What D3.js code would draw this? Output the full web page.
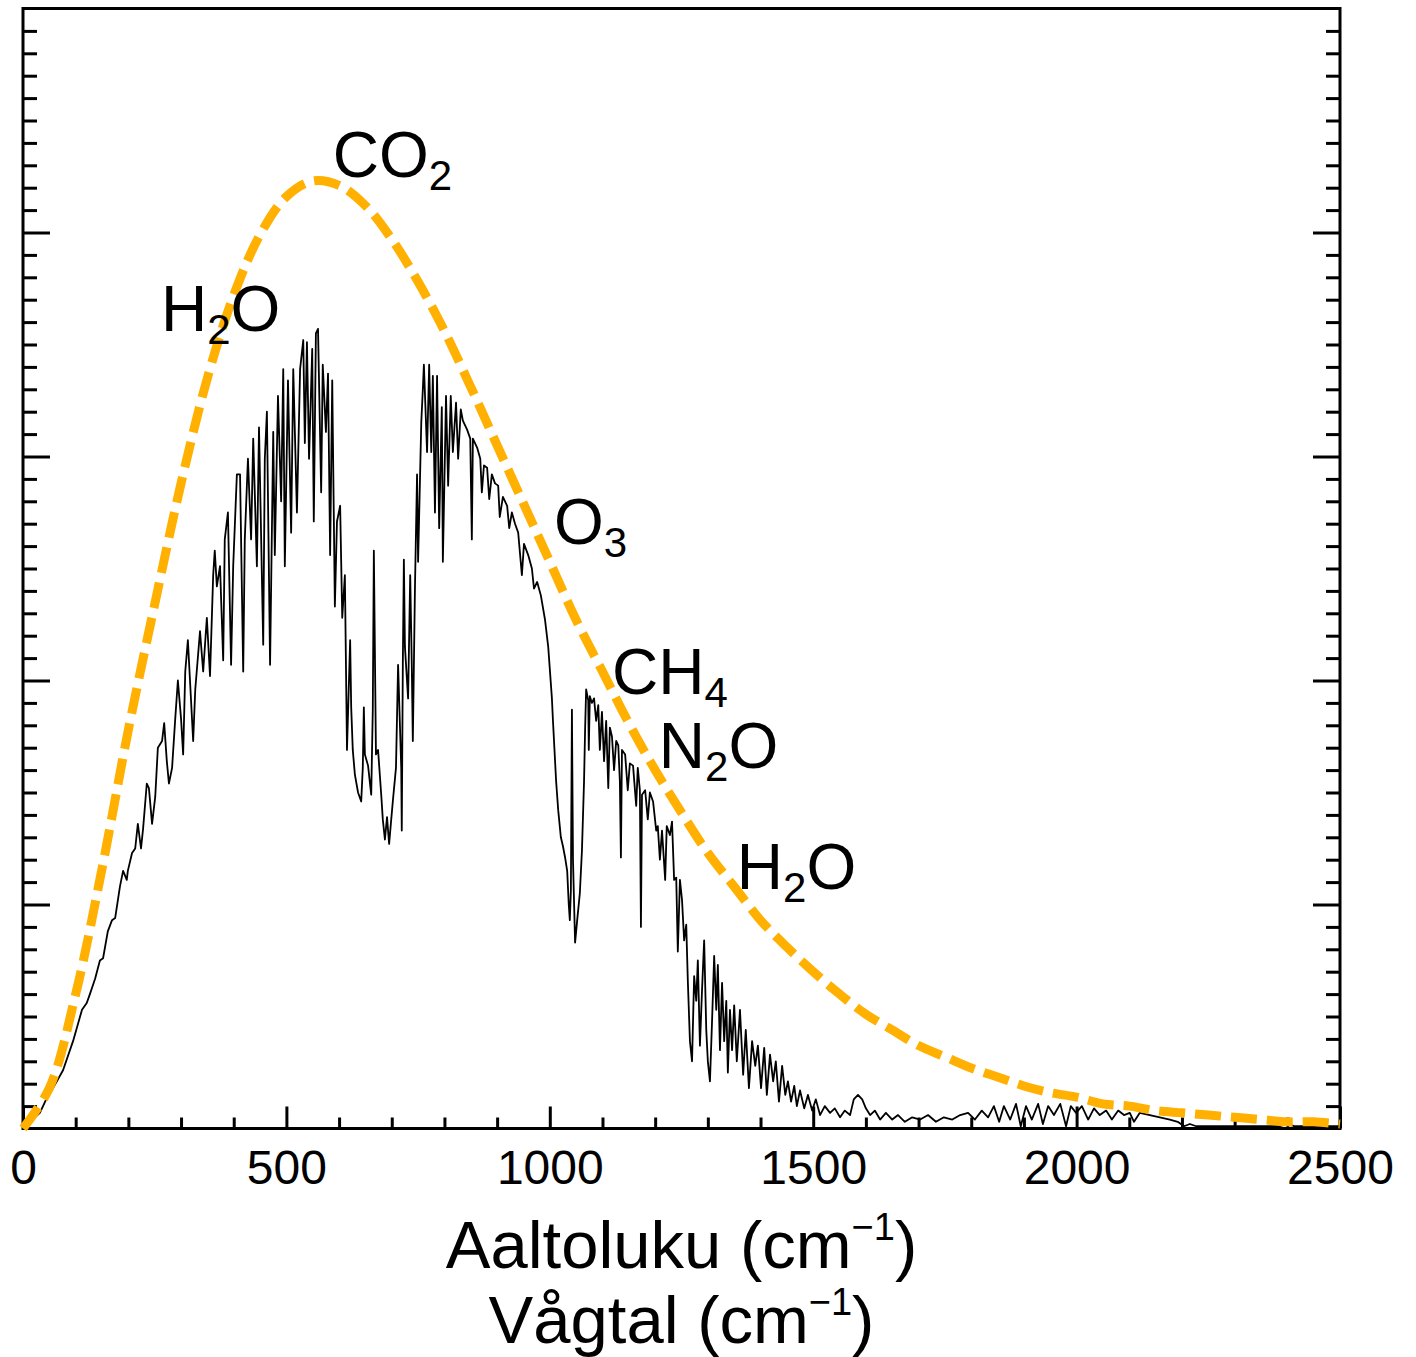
<!DOCTYPE html>
<html>

<head>
  <meta charset="utf-8">
  <title>Aaltoluku</title>
  <script src="https://d3js.org/d3.v7.min.js" charset="utf-8"></script>
  <style>
    body {
      margin: 0;
      background: white;
    }

    svg {
      font-family: "Liberation Sans", Arial, sans-serif;
    }

    .frame {
      fill: none;
      stroke: black;
      stroke-width: 3px;
    }

    .axis path.domain {
      display: none;
    }

    .axis line {
      stroke: black;
      stroke-width: 3px;
    }

    .axis text {
      font-size: 48px;
      fill: black;
      font-family: "Liberation Sans", Arial, sans-serif;
    }

    .spectrum {
      fill: none;
      stroke: black;
      stroke-width: 1.8px;
      stroke-linejoin: round;
    }

    .planck {
      fill: none;
      stroke: #ffb000;
      stroke-width: 9px;
      stroke-dasharray: 26, 10;
    }

    .band {
      font-size: 64px;
      fill: black;
    }

    .title {
      font-size: 67px;
      fill: black;
      text-anchor: middle;
    }
  </style>
</head>

<body>
  <svg></svg>

  <script>
    //begin: data
    // blackbody curve (dashed), read every 50 cm-1
    var planckWavenumber = [0, 50, 100, 150, 200, 250, 300, 350, 400, 450, 500, 550, 600, 650, 700, 750, 800, 850,
      900, 950, 1000, 1050, 1100, 1150, 1200, 1250, 1300, 1350, 1400, 1450, 1500, 1550, 1600, 1650, 1700, 1750,
      1800, 1850, 1900, 1950, 2000, 2050, 2100, 2150, 2200, 2250, 2300, 2350, 2400, 2450, 2500];
    var planckRadiance = [0, 0.18, 0.60, 1.16, 1.78, 2.34, 2.88, 3.35, 3.72, 3.99, 4.16, 4.23, 4.21, 4.12, 3.97, 3.78,
      3.56, 3.31, 3.05, 2.79, 2.53, 2.27, 2.04, 1.81, 1.60, 1.41, 1.23, 1.08, 0.93, 0.81, 0.70, 0.60, 0.51, 0.44,
      0.37, 0.32, 0.27, 0.23, 0.19, 0.16, 0.14, 0.11, 0.10, 0.08, 0.07, 0.06, 0.05, 0.04, 0.03, 0.03, 0.02];

    // measured spectrum: [wavenumber cm-1, radiance]
    var observedSpectrum = [
      [0, 0], [13, 0.03], [32, 0.07], [46, 0.14], [57, 0.18], [76, 0.26], [95, 0.39], [112, 0.53], [121, 0.56],
      [127, 0.60], [137, 0.67], [146, 0.75], [152, 0.76], [161, 0.88], [169, 0.93], [175, 0.94], [184, 1.08],
      [190, 1.15], [197, 1.11], [199, 1.15], [207, 1.23], [213, 1.25], [218, 1.36], [224, 1.25], [228, 1.34],
      [235, 1.54], [239, 1.52], [245, 1.36], [251, 1.48], [256, 1.70], [264, 1.73], [268, 1.81], [273, 1.64],
      [277, 1.54], [283, 1.61], [289, 1.83], [294, 2.00], [300, 1.83], [304, 1.67], [308, 2.04], [313, 2.18],
      [323, 1.73], [327, 1.96], [336, 2.22], [342, 2.04], [349, 2.28], [355, 2.02], [361, 2.47], [364, 2.58],
      [368, 2.42], [374, 2.51], [380, 2.09], [383, 2.63], [389, 2.75], [395, 2.07], [399, 2.51], [406, 2.92],
      [412, 2.92], [418, 2.04], [421, 2.63], [427, 2.99], [433, 2.63], [437, 3.08], [444, 2.51], [448, 3.13],
      [456, 2.16], [459, 2.99], [463, 3.20], [469, 2.07], [475, 3.11], [478, 2.56], [484, 3.27], [490, 2.80],
      [494, 3.39], [497, 2.51], [503, 3.34], [509, 2.66], [513, 3.39], [520, 2.75], [526, 3.39], [532, 3.52],
      [535, 3.06], [539, 3.51], [543, 2.99], [549, 3.48], [552, 2.71], [556, 3.55], [560, 3.57], [566, 2.84],
      [569, 3.41], [575, 3.11], [579, 3.37], [583, 2.56], [587, 3.34], [592, 2.33], [596, 2.71], [602, 2.78],
      [606, 2.28], [611, 2.47], [615, 1.69], [621, 2.18], [623, 1.88], [626, 1.69], [630, 1.58], [636, 1.50],
      [642, 1.46], [645, 1.61], [647, 1.88], [649, 1.67], [655, 1.62], [661, 1.49], [664, 1.87], [666, 2.58],
      [670, 1.67], [674, 1.69], [680, 1.49], [683, 1.38], [687, 1.29], [691, 1.39], [695, 1.27], [699, 1.38],
      [702, 1.46], [708, 1.61], [712, 2.07], [718, 1.61], [719, 1.33], [721, 2.07], [723, 2.54], [725, 2.15],
      [731, 1.92], [735, 2.47], [738, 2.07], [740, 1.73], [744, 2.41], [748, 2.92], [750, 2.53], [756, 3.15],
      [759, 3.30], [761, 3.41], [767, 3.02], [771, 3.41], [775, 3.02], [778, 3.36], [782, 2.75], [786, 3.36],
      [790, 2.68], [795, 3.22], [797, 2.53], [803, 3.27], [807, 2.87], [812, 3.27], [816, 3.02], [822, 3.24],
      [826, 2.99], [831, 3.21], [835, 3.16], [843, 3.12], [849, 3.08], [852, 2.63], [854, 3.08], [862, 3.04],
      [868, 2.99], [871, 2.84], [875, 2.96], [881, 2.95], [885, 2.81], [890, 2.92], [896, 2.88], [902, 2.87],
      [905, 2.73], [911, 2.82], [919, 2.78], [923, 2.68], [928, 2.75], [934, 2.70], [940, 2.66], [947, 2.47],
      [951, 2.61], [959, 2.56], [966, 2.50], [970, 2.41], [976, 2.44], [983, 2.38], [991, 2.27], [997, 2.15],
      [1004, 1.92], [1006, 1.82], [1012, 1.55], [1016, 1.42], [1021, 1.30], [1025, 1.26], [1029, 1.21],
      [1033, 1.15], [1036, 1.00], [1038, 0.93], [1040, 1.06], [1042, 1.87], [1044, 1.20], [1048, 0.83],
      [1052, 0.93], [1057, 1.05], [1061, 1.24], [1065, 1.55], [1067, 1.78], [1069, 1.96], [1073, 1.91],
      [1074, 1.69], [1076, 1.93], [1080, 1.90], [1084, 1.92], [1088, 1.82], [1092, 1.89], [1095, 1.69],
      [1099, 1.86], [1103, 1.64], [1107, 1.82], [1111, 1.52], [1114, 1.79], [1118, 1.75], [1122, 1.60],
      [1126, 1.73], [1130, 1.71], [1133, 1.55], [1135, 1.21], [1137, 1.69], [1143, 1.67], [1148, 1.51],
      [1152, 1.63], [1158, 1.62], [1164, 1.44], [1167, 1.61], [1171, 1.51], [1173, 0.90], [1175, 1.49],
      [1181, 1.51], [1186, 1.38], [1190, 1.50], [1196, 1.46], [1202, 1.33], [1205, 1.35], [1209, 1.20],
      [1213, 1.33], [1219, 1.11], [1222, 1.35], [1228, 1.31], [1232, 1.37], [1236, 1.11], [1240, 1.12],
      [1243, 0.79], [1247, 1.11], [1251, 1.02], [1255, 0.84], [1259, 0.91], [1262, 0.66], [1266, 0.39],
      [1270, 0.30], [1274, 0.68], [1278, 0.57], [1281, 0.75], [1285, 0.37], [1289, 0.62], [1293, 0.84],
      [1297, 0.44], [1300, 0.30], [1304, 0.21], [1308, 0.48], [1312, 0.77], [1316, 0.53], [1319, 0.73],
      [1323, 0.35], [1327, 0.65], [1331, 0.39], [1335, 0.57], [1338, 0.25], [1342, 0.53], [1346, 0.35],
      [1350, 0.55], [1355, 0.30], [1361, 0.53], [1367, 0.24], [1372, 0.44], [1378, 0.18], [1384, 0.39],
      [1390, 0.28], [1395, 0.37], [1401, 0.18], [1407, 0.36], [1412, 0.15], [1418, 0.33], [1424, 0.21],
      [1429, 0.30], [1435, 0.12], [1441, 0.28], [1447, 0.15], [1452, 0.21], [1458, 0.12], [1464, 0.19],
      [1469, 0.10], [1475, 0.17], [1483, 0.09], [1490, 0.15], [1498, 0.08], [1505, 0.13], [1513, 0.06],
      [1522, 0.10], [1532, 0.07], [1541, 0.09], [1551, 0.05], [1560, 0.08], [1570, 0.06], [1577, 0.13],
      [1585, 0.15], [1593, 0.13], [1600, 0.09], [1608, 0.06], [1617, 0.08], [1627, 0.04], [1638, 0.07],
      [1650, 0.04], [1661, 0.06], [1674, 0.03], [1688, 0.05], [1703, 0.04], [1718, 0.06], [1733, 0.03],
      [1748, 0.05], [1764, 0.04], [1779, 0.06], [1794, 0.07], [1807, 0.04], [1820, 0.08], [1832, 0.05],
      [1843, 0.10], [1853, 0.03], [1862, 0.10], [1874, 0.04], [1885, 0.11], [1894, 0.01], [1904, 0.10],
      [1915, 0.04], [1927, 0.11], [1936, 0.02], [1946, 0.10], [1957, 0.06], [1969, 0.11], [1980, 0.01],
      [1989, 0.10], [1999, 0.07], [2010, 0.10], [2022, 0.04], [2033, 0.09], [2044, 0.06], [2056, 0.08],
      [2067, 0.04], [2079, 0.08], [2090, 0.06], [2101, 0.07], [2109, 0.03], [2120, 0.07], [2139, 0.06],
      [2158, 0.05], [2177, 0.04], [2192, 0.03], [2204, 0.01], [2215, 0.02], [2227, 0.01], [2300, 0.01],
      [2386, 0.01], [2399, 0.02], [2415, 0.01], [2500, 0.01]
    ];

    // absorber labels, anchored at [wavenumber, radiance] of the text baseline start
    var bandLabels = [
      { base: "H", sub: "2", tail: "O", wavenumber: 262, radiance: 3.56 },
      { base: "CO", sub: "2", tail: "", wavenumber: 588, radiance: 4.25 },
      { base: "O", sub: "3", tail: "", wavenumber: 1008, radiance: 2.61 },
      { base: "CH", sub: "4", tail: "", wavenumber: 1118, radiance: 1.94 },
      { base: "N", sub: "2", tail: "O", wavenumber: 1207, radiance: 1.61 },
      { base: "H", sub: "2", tail: "O", wavenumber: 1355, radiance: 1.07 }
    ];

    var xMajorTicks = [0, 500, 1000, 1500, 2000, 2500];
    //end: data

    //begin: layout conf.
    var svgWidth = 1416,
      svgHeight = 1357,
      margin = { top: 8.5, left: 23 },
      width = 1317,
      height = 1120;
    //end: layout conf.

    var svg = d3.select("svg")
      .attr("width", svgWidth)
      .attr("height", svgHeight);

    var x = d3.scaleLinear().domain([0, 2500]).range([margin.left, margin.left + width]);
    var y = d3.scaleLinear().domain([0, 5]).range([margin.top + height, margin.top]);

    var xMinor = d3.range(0, 2501, 100).filter(function (d) { return d % 500 !== 0; });
    var yMinor = d3.range(0, 51).map(function (d) { return d / 10; }).filter(function (d, i) { return i % 10 !== 0; });
    var yMajor = [1, 2, 3, 4];

    //begin: axes (ticks point inward)
    function addAxis(axis, tx, ty) {
      svg.append("g")
        .classed("axis", true)
        .attr("transform", "translate(" + [tx, ty] + ")")
        .call(axis);
    }

    var bottomY = margin.top + height,
      rightX = margin.left + width;

    addAxis(d3.axisBottom(x).tickValues(xMinor).tickSize(-11).tickFormat(""), 0, bottomY);
    addAxis(d3.axisBottom(x).tickValues(xMajorTicks).tickSize(-22).tickPadding(21).tickFormat(d3.format("d")), 0, bottomY);
    addAxis(d3.axisLeft(y).tickValues(yMinor).tickSize(-14).tickFormat(""), margin.left, 0);
    addAxis(d3.axisLeft(y).tickValues(yMajor).tickSize(-27).tickFormat(""), margin.left, 0);
    addAxis(d3.axisRight(y).tickValues(yMinor).tickSize(-14).tickFormat(""), rightX, 0);
    addAxis(d3.axisRight(y).tickValues(yMajor).tickSize(-27).tickFormat(""), rightX, 0);

    svg.append("rect")
      .classed("frame", true)
      .attr("x", margin.left)
      .attr("y", margin.top)
      .attr("width", width)
      .attr("height", height);
    //end: axes

    //begin: curves
    var spectrumLine = d3.line()
      .x(function (d) { return x(d[0]); })
      .y(function (d) { return y(d[1]); });

    svg.append("path")
      .classed("spectrum", true)
      .attr("d", spectrumLine(observedSpectrum));

    var planckLine = d3.line()
      .curve(d3.curveCatmullRom)
      .x(function (d, i) { return x(planckWavenumber[i]); })
      .y(function (d) { return y(d); });

    svg.append("path")
      .classed("planck", true)
      .attr("d", planckLine(planckRadiance));
    //end: curves

    //begin: labels
    var labels = svg.selectAll(".band")
      .data(bandLabels)
      .enter()
      .append("text")
      .classed("band", true)
      .attr("x", function (d) { return x(d.wavenumber); })
      .attr("y", function (d) { return y(d.radiance); });

    labels.append("tspan").text(function (d) { return d.base; });
    labels.append("tspan")
      .attr("dy", 13)
      .style("font-size", "42px")
      .text(function (d) { return d.sub; });
    labels.append("tspan")
      .attr("dy", -13)
      .text(function (d) { return d.tail; });

    var titleLines = ["Aaltoluku (cm", "Vågtal (cm"],
      titleBaselines = [1268, 1343];

    titleLines.forEach(function (t, i) {
      var title = svg.append("text")
        .classed("title", true)
        .attr("x", margin.left + width / 2)
        .attr("y", titleBaselines[i]);
      title.append("tspan").text(t);
      title.append("tspan")
        .attr("dy", -28)
        .style("font-size", "38px")
        .text("\u22121");
      title.append("tspan")
        .attr("dy", 28)
        .text(")");
    });
    //end: labels
  </script>
</body>

</html>
